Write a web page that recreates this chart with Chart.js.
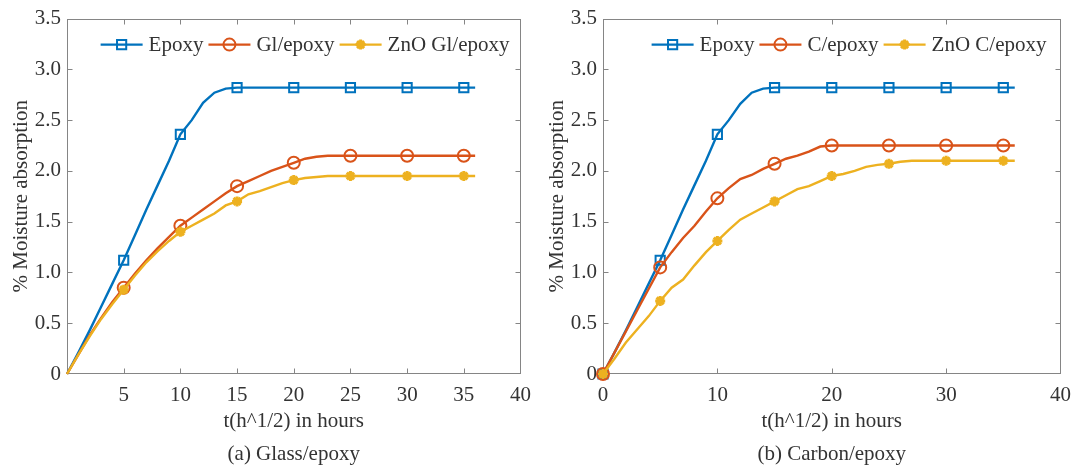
<!DOCTYPE html>
<html>
<head>
<meta charset="utf-8">
<title>Moisture absorption</title>
<script src="https://cdn.jsdelivr.net/npm/chart.js"></script>
<style>
  html, body { margin: 0; padding: 0; background: #fff; }
  #wrap { position: relative; width: 1080px; height: 468px; overflow: hidden; }
  canvas { position: absolute; top: 0; }
  #glassChart { left: 0; }
  #carbonChart { left: 540px; }
</style>
</head>
<body>
<div id="wrap">
  <canvas id="glassChart" width="540" height="468"></canvas>
  <canvas id="carbonChart" width="540" height="468"></canvas>
</div>
<script>
'use strict';

// ── Data ──
const HOURS = [0, 1, 2, 3, 4, 5, 6, 7, 8, 9, 10, 11, 12, 13, 14, 15, 16, 17, 18,
  19, 20, 21, 22, 23, 24, 25, 26, 27, 28, 29, 30, 31, 32, 33, 34, 35, 36];

// (a) Glass/epoxy
const GLASS_EPOXY = [0, 0.21, 0.43, 0.66, 0.89, 1.12, 1.37, 1.62, 1.86, 2.10, 2.36,
  2.50, 2.67, 2.77, 2.81, 2.82, 2.82, 2.82, 2.82, 2.82, 2.82, 2.82, 2.82, 2.82,
  2.82, 2.82, 2.82, 2.82, 2.82, 2.82, 2.82, 2.82, 2.82, 2.82, 2.82, 2.82, 2.82];
const GL_EPOXY = [0, 0.19, 0.38, 0.55, 0.71, 0.85, 0.99, 1.12, 1.24, 1.35, 1.46,
  1.54, 1.62, 1.70, 1.78, 1.85, 1.90, 1.95, 2.00, 2.04, 2.08, 2.12, 2.14, 2.15,
  2.15, 2.15, 2.15, 2.15, 2.15, 2.15, 2.15, 2.15, 2.15, 2.15, 2.15, 2.15, 2.15];
const ZNO_GL_EPOXY = [0, 0.19, 0.37, 0.54, 0.69, 0.83, 0.97, 1.10, 1.21, 1.31, 1.40,
  1.46, 1.52, 1.58, 1.66, 1.70, 1.77, 1.80, 1.84, 1.88, 1.91, 1.93, 1.94, 1.95,
  1.95, 1.95, 1.95, 1.95, 1.95, 1.95, 1.95, 1.95, 1.95, 1.95, 1.95, 1.95, 1.95];

// (b) Carbon/epoxy
const CARBON_EPOXY = [0, 0.21, 0.43, 0.66, 0.89, 1.12, 1.37, 1.62, 1.86, 2.10, 2.36,
  2.50, 2.66, 2.77, 2.81, 2.82, 2.82, 2.82, 2.82, 2.82, 2.82, 2.82, 2.82, 2.82,
  2.82, 2.82, 2.82, 2.82, 2.82, 2.82, 2.82, 2.82, 2.82, 2.82, 2.82, 2.82, 2.82];
const C_EPOXY = [0, 0.21, 0.42, 0.63, 0.84, 1.05, 1.20, 1.34, 1.46, 1.60, 1.73,
  1.83, 1.92, 1.96, 2.02, 2.07, 2.12, 2.15, 2.19, 2.24, 2.25, 2.25, 2.25, 2.25,
  2.25, 2.25, 2.25, 2.25, 2.25, 2.25, 2.25, 2.25, 2.25, 2.25, 2.25, 2.25, 2.25];
const ZNO_C_EPOXY = [0, 0.15, 0.31, 0.44, 0.57, 0.72, 0.85, 0.93, 1.07, 1.20, 1.31,
  1.42, 1.52, 1.58, 1.64, 1.70, 1.76, 1.82, 1.85, 1.90, 1.95, 1.97, 2.00, 2.04,
  2.06, 2.07, 2.09, 2.10, 2.10, 2.10, 2.10, 2.10, 2.10, 2.10, 2.10, 2.10, 2.10];

const Y_TICKS = [0, 0.5, 1.0, 1.5, 2.0, 2.5, 3.0, 3.5];

// ── Styling ──
const BLUE   = '#0072BD';
const ORANGE = '#D95319';
const YELLOW = '#EDB120';
const AXIS_COLOR = '#858585';
const TEXT_COLOR = '#333333';
const FONT = "'Liberation Serif', 'Times New Roman', serif";

function drawMarker(ctx, style, x, y, r) {
  ctx.beginPath();
  if (style === 'rect') {
    const s = r * Math.SQRT1_2;
    ctx.rect(x - s, y - s, 2 * s, 2 * s);
  } else if (style === 'circle') {
    ctx.arc(x, y, r, 0, Math.PI * 2);
  } else {
    for (let k = 0; k < 4; k++) {
      const a = k * Math.PI / 4;
      ctx.moveTo(x - r * Math.cos(a), y - r * Math.sin(a));
      ctx.lineTo(x + r * Math.cos(a), y + r * Math.sin(a));
    }
  }
  ctx.stroke();
}

// box around the plot + inward tick marks on all four sides
const boxPlugin = {
  id: 'matlabBox',
  beforeDatasetsDraw(chart) {
    const { ctx, chartArea: a, scales: { x, y } } = chart;
    const L = Math.round(a.left) + 0.5, R = Math.round(a.right) - 0.5;
    const T = Math.round(a.top) + 0.5, B = Math.round(a.bottom) - 0.5;
    const len = 5;
    ctx.save();
    ctx.strokeStyle = AXIS_COLOR;
    ctx.lineWidth = 1;
    ctx.strokeRect(L, T, R - L, B - T);
    ctx.beginPath();
    x.ticks.forEach(t => {
      const px = Math.round(x.getPixelForValue(t.value)) + 0.5;
      if (px <= L + 1 || px >= R - 1) return;
      ctx.moveTo(px, B); ctx.lineTo(px, B - len);
      ctx.moveTo(px, T); ctx.lineTo(px, T + len);
    });
    y.ticks.forEach(t => {
      const py = Math.round(y.getPixelForValue(t.value)) + 0.5;
      if (py <= T + 1 || py >= B - 1) return;
      ctx.moveTo(L, py); ctx.lineTo(L + len, py);
      ctx.moveTo(R, py); ctx.lineTo(R - len, py);
    });
    ctx.stroke();
    ctx.restore();
  },
};

// legend drawn inside the axes, top right, line + marker samples
const innerLegend = {
  id: 'innerLegend',
  afterDatasetsDraw(chart) {
    const { ctx, chartArea: a } = chart;
    const sample = 42, gap = 6, itemGap = 5;
    const inset = chart.options.plugins.innerLegend.inset;
    ctx.save();
    ctx.font = `21px ${FONT}`;
    const items = chart.data.datasets.map(ds => ({ ds, w: ctx.measureText(ds.label).width }));
    const total = items.reduce((s, it) => s + sample + gap + it.w, 0) + itemGap * (items.length - 1);
    let cx = a.right - inset - total;
    const cy = a.top + 26;
    items.forEach(({ ds, w }) => {
      ctx.strokeStyle = ds.borderColor;
      ctx.lineWidth = ds.borderWidth;
      ctx.beginPath();
      ctx.moveTo(cx, cy); ctx.lineTo(cx + sample, cy);
      ctx.stroke();
      ctx.lineWidth = ds.pointBorderWidth;
      drawMarker(ctx, ds.pointStyle, cx + sample / 2, cy, ds.legendRadius);
      ctx.fillStyle = TEXT_COLOR;
      ctx.textBaseline = 'middle';
      ctx.textAlign = 'left';
      ctx.fillText(ds.label, cx + sample + gap, cy + 1);
      cx += sample + gap + w + itemGap;
    });
    ctx.restore();
  },
};

function series(label, values, color, marker, radius, markZero, order) {
  return {
    label,
    data: HOURS.map((h, i) => ({ x: h, y: values[i] })),
    borderColor: color,
    backgroundColor: marker === 'star' ? color : 'rgba(0,0,0,0)',
    borderWidth: 2.4,
    tension: 0,
    pointStyle: marker,
    pointBorderColor: color,
    pointBackgroundColor: marker === 'star' ? color : 'rgba(0,0,0,0)',
    pointBorderWidth: marker === 'star' ? 3 : 2,
    pointRadius: ctx => {
      const h = HOURS[ctx.dataIndex];
      return (h % 5 === 0 && (markZero || h > 0)) ? radius : 0;
    },
    legendRadius: radius,
    clip: false,
    order,
  };
}

function buildChart(canvasId, opts) {
  return new Chart(document.getElementById(canvasId), {
    type: 'line',
    data: {
      datasets: [
        series('Epoxy', opts.epoxy, BLUE, 'rect', 6.5, opts.markZero, 2),
        series(opts.names[0], opts.plain, ORANGE, 'circle', 6, opts.markZero, 1),
        series(opts.names[1], opts.zno, YELLOW, 'star', 5, opts.markZero, 0),
      ],
    },
    options: {
      responsive: false,
      animation: false,
      events: [],
      layout: { padding: { left: 0, right: opts.padRight, top: 17, bottom: 0 } },
      plugins: {
        legend: { display: false },
        tooltip: { enabled: false },
        innerLegend: { inset: opts.legendInset },
      },
      scales: {
        x: {
          type: 'linear',
          min: 0,
          max: 40,
          grid: { display: false, drawTicks: false },
          border: { display: false },
          afterFit: s => { s.height = 94; },
          afterBuildTicks: s => { s.ticks = opts.xTicks.map(v => ({ value: v })); },
          ticks: {
            padding: 9,
            color: TEXT_COLOR,
            font: { family: FONT, size: 21 },
            callback: v => (opts.hideZeroX && v === 0 ? '' : String(v)),
          },
          // axis label plus the panel caption underneath it
          title: {
            display: true,
            text: ['t(h^1/2) in hours', opts.caption],
            color: TEXT_COLOR,
            font: { family: FONT, size: 21, lineHeight: 1.57 },
            padding: { top: 0, bottom: -3 },
          },
        },
        y: {
          type: 'linear',
          min: 0,
          max: 3.5,
          grid: { display: false, drawTicks: false },
          border: { display: false },
          afterFit: s => { s.width = opts.yWidth; },
          afterBuildTicks: s => { s.ticks = Y_TICKS.map(v => ({ value: v })); },
          ticks: {
            padding: 6,
            color: TEXT_COLOR,
            font: { family: FONT, size: 21 },
            callback: v => (v === 0 ? '0' : v.toFixed(1)),
          },
          title: {
            display: true,
            text: '% Moisture absorption',
            color: TEXT_COLOR,
            font: { family: FONT, size: 21 },
            padding: { top: opts.yTitlePad, bottom: 0 },
          },
        },
      },
    },
    plugins: [boxPlugin, innerLegend],
  });
}

buildChart('glassChart', {
  epoxy: GLASS_EPOXY, plain: GL_EPOXY, zno: ZNO_GL_EPOXY,
  names: ['Gl/epoxy', 'ZnO Gl/epoxy'],
  caption: '(a) Glass/epoxy',
  xTicks: [0, 5, 10, 15, 20, 25, 30, 35, 40],
  hideZeroX: true, markZero: false,
  yWidth: 67, padRight: 12, yTitlePad: 9, legendInset: 11,
});

buildChart('carbonChart', {
  epoxy: CARBON_EPOXY, plain: C_EPOXY, zno: ZNO_C_EPOXY,
  names: ['C/epoxy', 'ZnO C/epoxy'],
  caption: '(b) Carbon/epoxy',
  xTicks: [0, 10, 20, 30, 40],
  hideZeroX: false, markZero: true,
  yWidth: 63, padRight: 17, yTitlePad: 5, legendInset: 14,
});
</script>
</body>
</html>
